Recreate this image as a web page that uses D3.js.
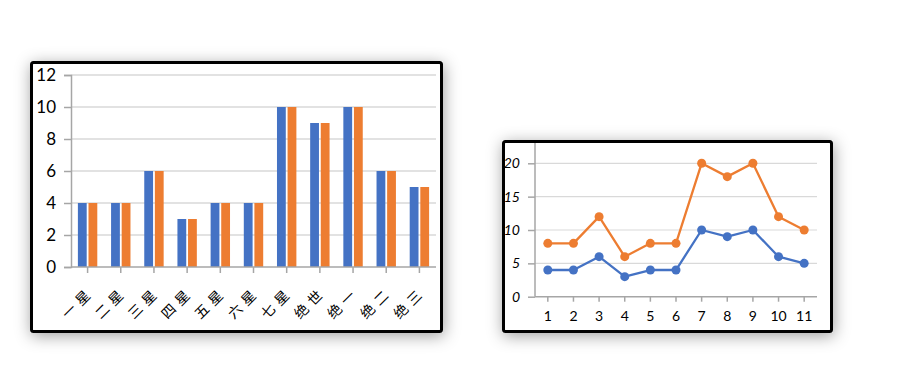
<!DOCTYPE html>
<html>
<head>
<meta charset="utf-8">
<script src="https://cdn.jsdelivr.net/npm/d3@7"></script>
<style>
  html, body { margin: 0; padding: 0; background: #ffffff; }
  svg { display: block; }
</style>
</head>
<body>
<svg id="chart" width="900" height="383"></svg>
<script>
// ---------- data ----------
const barCategories = ["一星", "二星", "三星", "四星", "五星", "六星", "七星", "绝世", "绝一", "绝二", "绝三"];
const barSeriesA = [4, 4, 6, 3, 4, 4, 10, 9, 10, 6, 5];
const barSeriesB = [4, 4, 6, 3, 4, 4, 10, 9, 10, 6, 5];
const barYTicks = [0, 2, 4, 6, 8, 10, 12];

const lineCategories = ["1", "2", "3", "4", "5", "6", "7", "8", "9", "10", "11"];
const lineSeriesA = [4, 4, 6, 3, 4, 4, 10, 9, 10, 6, 5];
const lineSeriesB = [8, 8, 12, 6, 8, 8, 20, 18, 20, 12, 10];
const lineYTicks = [0, 5, 10, 15, 20];

const BLUE = "#4472C4", ORANGE = "#ED7D31";
const GRID = "#d9d9d9", AXIS = "#a6a6a6";
const NUMFONT = "Lato, 'Liberation Sans', sans-serif";

const svg = d3.select("#chart");
const defs = svg.append("defs");
const f = defs.append("filter").attr("id", "shadow").attr("x", "-20%").attr("y", "-25%").attr("width", "140%").attr("height", "150%");
f.append("feDropShadow").attr("dx", 1).attr("dy", 3).attr("stdDeviation", 8).attr("flood-color", "#000").attr("flood-opacity", 0.38);

// ---------- frames ----------
function frame(x0, y0, x1, y1) {
  svg.append("rect").attr("x", x0).attr("y", y0).attr("width", x1 - x0).attr("height", y1 - y0)
    .attr("rx", 2).attr("fill", "#fff").attr("filter", "url(#shadow)");
}
frame(30, 61, 443, 333);
frame(502, 140, 833, 333);

// ---------- left: bar chart ----------
const gL = svg.append("g");
const yL = d3.scaleLinear().domain([0, 12]).range([267, 75]);
const xL = d3.scaleBand().domain(barCategories).range([71, 436]).padding(0);
const xSub = d3.scaleBand().domain(["A", "B"]).range([0, xL.bandwidth()]).paddingInner(0.17).paddingOuter(0.65);

gL.selectAll(".grid").data(barYTicks.filter(d => d > 0)).join("line")
  .attr("x1", 71).attr("x2", 436).attr("y1", d => yL(d)).attr("y2", d => yL(d))
  .attr("stroke", GRID).attr("stroke-width", 1.3);

const seriesL = [{ k: "A", v: barSeriesA, c: BLUE }, { k: "B", v: barSeriesB, c: ORANGE }];
seriesL.forEach(s => {
  gL.selectAll(".bar" + s.k).data(barCategories).join("rect")
    .attr("x", d => xL(d) + xSub(s.k))
    .attr("width", xSub.bandwidth())
    .attr("y", (d, i) => yL(s.v[i]))
    .attr("height", (d, i) => yL(0) - yL(s.v[i]))
    .attr("fill", s.c);
});

// y axis
const yAxisL = d3.axisLeft(yL).tickValues(barYTicks).tickSize(7).tickPadding(8);
const gyL = gL.append("g").attr("transform", "translate(71,0)").call(yAxisL);
gyL.select(".domain").attr("stroke", AXIS).attr("stroke-width", 1.5);
gyL.selectAll(".tick line").attr("stroke", AXIS).attr("stroke-width", 1.5);
gyL.selectAll(".tick text").attr("fill", "#000").style("font-family", NUMFONT).style("font-size", "17px").style("font-weight", 400);

// x axis
const xAxisL = d3.axisBottom(xL).tickSize(6).tickFormat("");
const gxL = gL.append("g").attr("transform", "translate(0,267)").call(xAxisL);
gxL.select(".domain").attr("stroke", AXIS).attr("stroke-width", 1.5).attr("d", "M71,0H436");
gxL.selectAll(".tick line").attr("stroke", AXIS).attr("stroke-width", 1.5);

gL.selectAll(".xlab").data(barCategories).join("text")
  .attr("transform", d => `translate(${xL(d) + xL.bandwidth() / 2 + 7},293) rotate(-45)`)
  .attr("text-anchor", "end")
  .style("font-family", "'Noto Sans CJK SC', sans-serif")
  .style("font-size", "14px")
  .style("letter-spacing", "5px")
  .style("font-weight", 400)
  .attr("fill", "#000")
  .text(d => d);

// ---------- right: line chart ----------
const gR = svg.append("g");
const yR = d3.scaleLinear().domain([0, 20]).range([296.7, 163.3]);
const xR = d3.scaleBand().domain(lineCategories).range([535, 817]).padding(0);
const cx = d => xR(d) + xR.bandwidth() / 2;

gR.selectAll(".grid").data(lineYTicks.filter(d => d > 0)).join("line")
  .attr("x1", 535).attr("x2", 817).attr("y1", d => yR(d)).attr("y2", d => yR(d))
  .attr("stroke", GRID).attr("stroke-width", 1.2);

const yAxisR = d3.axisLeft(yR).tickValues(lineYTicks).tickSize(7).tickPadding(8);
const gyR = gR.append("g").attr("transform", "translate(535,0)").call(yAxisR);
gyR.select(".domain").attr("stroke", AXIS).attr("stroke-width", 1.5).attr("d", `M0,${yR(0)}V${yR(23.1)}`);
gyR.selectAll(".tick line").attr("stroke", AXIS).attr("stroke-width", 1.5);
gyR.selectAll(".tick text").attr("fill", "#000").style("font-family", NUMFONT).style("font-size", "14px").style("font-style", "italic").style("font-weight", 400);

const xAxisR = d3.axisBottom(xR).tickSize(5).tickPadding(9);
const gxR = gR.append("g").attr("transform", `translate(0,${yR(0)})`).call(xAxisR);
gxR.select(".domain").attr("stroke", AXIS).attr("stroke-width", 1.5).attr("d", "M535,0H817");
gxR.selectAll(".tick line").attr("stroke", AXIS).attr("stroke-width", 1.5);
gxR.selectAll(".tick text").attr("fill", "#000").style("font-family", NUMFONT).style("font-size", "14px").style("font-weight", 400);

const seriesR = [{ v: lineSeriesA, c: BLUE }, { v: lineSeriesB, c: ORANGE }];
const lineGen = d3.line().x((d, i) => cx(lineCategories[i])).y(d => yR(d));
seriesR.forEach(s => {
  gR.append("path").datum(s.v).attr("d", lineGen).attr("fill", "none").attr("stroke", s.c).attr("stroke-width", 2.3).attr("stroke-linejoin", "round");
  gR.selectAll(null).data(s.v).join("circle")
    .attr("cx", (d, i) => cx(lineCategories[i])).attr("cy", d => yR(d)).attr("r", 4.5).attr("fill", s.c);
});

// ---------- frame borders on top ----------
function border(x0, y0, x1, y1) {
  svg.append("rect").attr("x", x0 + 1.5).attr("y", y0 + 1.5).attr("width", x1 - x0 - 3).attr("height", y1 - y0 - 3)
    .attr("rx", 2).attr("fill", "none").attr("stroke", "#000").attr("stroke-width", 3);
}
border(30, 61, 443, 333);
border(502, 140, 833, 333);
</script>
</body>
</html>
